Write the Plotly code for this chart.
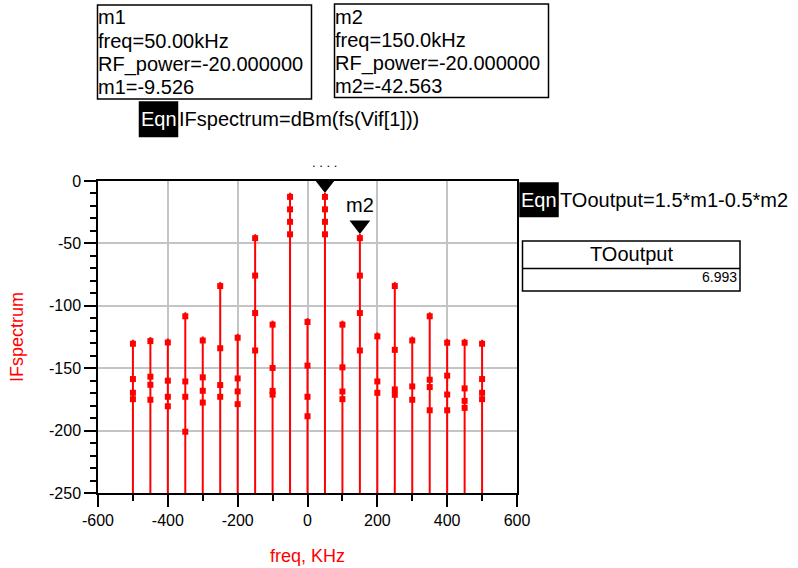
import plotly.graph_objects as go

# ---------------- data ----------------
freq_khz = [-500, -450, -400, -350, -300, -250, -200, -150, -100, -50, 0,
            50, 100, 150, 200, 250, 300, 350, 400, 450, 500]

# IF spectrum (dBm) for the four swept RF power levels, top to bottom
if_spec_1 = [-127.2, -125.1, -126.2, -105.2, -124.6, -81.0, -122.4, -42.6, -111.9, -9.5, -109.8,
             -9.526, -111.9, -42.563, -121.3, -81.0, -124.6, -105.2, -126.4, -126.4, -127.2]
if_spec_2 = [-155.5, -153.6, -156.8, -157.4, -154.1, -130.8, -155.0, -72.6, -146.6, -19.5, -144.7,
             -19.5, -146.1, -72.6, -157.4, -132.1, -161.4, -156.0, -152.8, -163.0, -155.5]
if_spec_3 = [-166.5, -160.1, -169.7, -169.7, -164.9, -160.3, -165.4, -102.6, -165.0, -29.5, -169.7,
             -29.5, -165.5, -102.6, -166.5, -163.8, -172.1, -161.9, -167.9, -173.0, -166.5]
if_spec_4 = [-171.6, -172.1, -177.3, -197.7, -174.3, -169.7, -175.6, -132.6, -168.0, -39.5, -185.3,
             -39.5, -171.6, -132.6, None, -168.1, None, -180.5, -180.5, -178.6, -171.6]

rf_power = -20.0
m1_freq, m2_freq = 50, 150

x_range = [-600, 600]
y_range = [-250, 0]
x_tick_vals = [-600, -400, -200, 0, 200, 400, 600]
x_tick_text = ["-600", "-400", "-200", "0", "200", "400", "600"]
y_tick_vals = [-250, -200, -150, -100, -50, 0]
y_tick_text = ["-250", "-200", "-150", "-100", "-50", "0"]

series = [if_spec_1, if_spec_2, if_spec_3, if_spec_4]

m1 = if_spec_1[freq_khz.index(m1_freq)]
m2 = if_spec_1[freq_khz.index(m2_freq)]
to_output = round(1.5 * m1 - 0.5 * m2 + 1e-9, 3)

# ---------------- figure ----------------
RED = "#ff0000"
FONT = "Liberation Sans, Arial, sans-serif"

W, H = 798, 568
PL, PR, PT, PB = 98, 517, 181, 493
PW, PH = PR - PL, PB - PT


def px(x):
    return (x - PL) / PW


def py(y):
    return (PB - y) / PH


fig = go.Figure()

# stems
xs, ys = [], []
for i, f in enumerate(freq_khz):
    vals = [s[i] for s in series if s[i] is not None]
    xs += [f, f, None]
    ys += [y_range[0], max(vals), None]
fig.add_trace(go.Scatter(x=xs, y=ys, mode="lines",
                         line=dict(color=RED, width=2), hoverinfo="skip",
                         showlegend=False))

# points
for s in series:
    fig.add_trace(go.Scatter(x=freq_khz, y=s, mode="markers",
                             marker=dict(symbol="square", size=6, color=RED,
                                         standoff=4),
                             showlegend=False))

# marker readouts m1 / m2
fig.add_trace(go.Scatter(x=[m1_freq, m2_freq], y=[m1, m2], mode="markers",
                         marker=dict(symbol="triangle-up", angle=180, size=18,
                                     standoff=9, color="black"),
                         cliponaxis=False, showlegend=False))

shapes = []
ann = []


def text(x, y, s, size=20, color="black", xanchor="left", **kw):
    ann.append(dict(x=px(x), y=py(y), xref="paper", yref="paper", text=s,
                    showarrow=False, xanchor=xanchor, yanchor="middle",
                    font=dict(family=FONT, size=size, color=color), **kw))


def rect(x0, y0, x1, y1, fill=None):
    shapes.append(dict(type="rect", xref="paper", yref="paper",
                       x0=px(x0), x1=px(x1), y0=py(y1), y1=py(y0),
                       line=dict(color="black", width=1.5),
                       fillcolor=fill if fill else "rgba(0,0,0,0)"))


# marker boxes
rect(97.5, 5, 311.5, 99)
for k, s in enumerate(["m1", f"freq={m1_freq:.2f}kHz",
                       f"RF_power={rf_power:.6f}", f"m1={m1:.3f}"]):
    text(96, 17 + 23.5 * k, s)
rect(334.5, 4, 548.5, 97.5)
for k, s in enumerate(["m2", f"freq={m2_freq:.1f}kHz",
                       f"RF_power={rf_power:.6f}", f"m2={m2:.3f}"]):
    text(333, 16.5 + 23.3 * k, s)

# equations
rect(139.5, 102, 177.5, 136.5, fill="black")
text(158.5, 119, "Eqn", color="white", xanchor="center")
text(177, 119, "IFspectrum=dBm(fs(Vif[1]))")
rect(520, 183, 558, 216.5, fill="black")
text(539, 199.5, "Eqn", color="white", xanchor="center")
text(558, 200, "TOoutput=1.5*m1-0.5*m2")

# TOoutput table
rect(522.5, 241, 740, 291)
shapes.append(dict(type="line", xref="paper", yref="paper",
                   x0=px(522.5), x1=px(740), y0=py(268.5), y1=py(268.5),
                   line=dict(color="black", width=1.5)))
text(631, 254, "TOoutput", xanchor="center")
text(739, 277, f"{to_output:.3f}", size=14, xanchor="right")

# axis titles
text(17, 337, "IFspectrum", size=18, color=RED, xanchor="center", textangle=-90)
text(307, 556, "freq, KHz", size=18, color=RED, xanchor="center")

# marker labels
ann.append(dict(x=m2_freq, y=m2, xref="x", yref="y", text="m2", showarrow=False,
                yshift=29, font=dict(family=FONT, size=20, color="black")))
ann.append(dict(x=m1_freq, y=m1, xref="x", yref="y", text=". . . .", showarrow=False,
                yshift=30, font=dict(family=FONT, size=13, color="black")))

axis_common = dict(
    showline=True, linecolor="black", linewidth=1.5, mirror=True,
    ticks="outside", ticklen=12, tickwidth=1.5, tickcolor="black",
    showgrid=True, gridcolor="#c4c4c4", gridwidth=1.5,
    zeroline=False, tickfont=dict(family=FONT, size=16, color="black"),
    tickmode="array",
)

fig.update_layout(
    width=W, height=H,
    margin=dict(l=PL, r=W - PR, t=PT, b=H - PB, pad=0),
    paper_bgcolor="white", plot_bgcolor="white",
    showlegend=False,
    xaxis=dict(range=x_range, tickvals=x_tick_vals, ticktext=x_tick_text,
               minor=dict(tickmode="linear", tick0=0, dtick=100, ticks="outside",
                          ticklen=6, tickwidth=1.5, tickcolor="black", showgrid=False),
               **axis_common),
    yaxis=dict(range=y_range, tickvals=y_tick_vals, ticktext=y_tick_text,
               minor=dict(tickmode="linear", tick0=0, dtick=10, ticks="outside",
                          ticklen=6, tickwidth=1.5, tickcolor="black", showgrid=False),
               **axis_common),
    shapes=shapes,
    annotations=ann,
)

fig.write_html("out.html", config={"displayModeBar": False},
               post_script="document.body.style.margin='0';")
